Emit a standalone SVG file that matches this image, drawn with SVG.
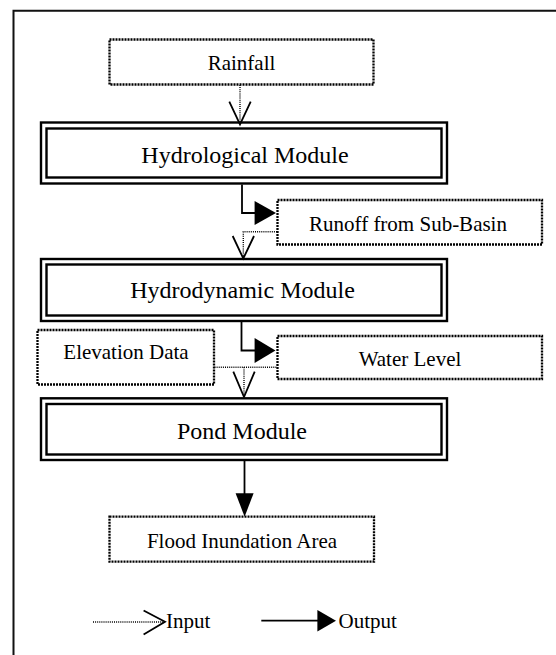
<svg xmlns="http://www.w3.org/2000/svg" width="556" height="655" viewBox="0 0 556 655">
  <style>
    .frame { fill: none; stroke: #111; stroke-width: 2; }
    .data { fill: #fff; stroke: #000; stroke-width: 2.3; stroke-dasharray: 2 1; }
    .mod-outer { fill: #fff; stroke: #000; stroke-width: 2.4; }
    .mod-inner { fill: none; stroke: #000; stroke-width: 2.4; }
    .lbl { font-family: "Liberation Serif", "Times New Roman", serif; font-size: 21px; fill: #000; text-anchor: middle; }
    .mlbl { font-family: "Liberation Serif", "Times New Roman", serif; font-size: 24px; fill: #000; text-anchor: middle; }
    .leg { font-family: "Liberation Serif", "Times New Roman", serif; font-size: 21px; fill: #000; }
    .in-line { fill: none; stroke: #000; stroke-width: 1.4; stroke-dasharray: 1 1.1; }
    .in-head { fill: none; stroke: #000; stroke-width: 1.8; stroke-linejoin: miter; }
    .out-line { fill: none; stroke: #000; stroke-width: 1.8; }
    .out-head { fill: #000; stroke: none; }
  </style>
  <rect width="556" height="655" fill="#fff"/>
  <!-- page frame, open on the right and bottom -->
  <path class="frame" d="M13.5,660 V10.8 H560"/>

  <!-- data boxes -->
  <g id="rainfall">
    <rect class="data" x="109.5" y="39.5" width="264" height="45"/>
    <text class="lbl" x="241.5" y="70">Rainfall</text>
  </g>
  <g id="runoff">
    <rect class="data" x="277.5" y="200" width="264.5" height="44.5"/>
    <text class="lbl" x="408" y="230.5">Runoff from Sub-Basin</text>
  </g>
  <g id="elevation">
    <rect class="data" x="37.5" y="330" width="176.5" height="54.5"/>
    <text class="lbl" x="126" y="359">Elevation Data</text>
  </g>
  <g id="water-level">
    <rect class="data" x="277.5" y="336" width="264.5" height="43"/>
    <text class="lbl" x="410" y="366">Water Level</text>
  </g>
  <g id="flood-area">
    <rect class="data" x="109.5" y="516.7" width="264.5" height="45"/>
    <text class="lbl" x="242" y="548">Flood Inundation Area</text>
  </g>

  <!-- model modules (double border) -->
  <g id="hydrological">
    <rect class="mod-outer" x="41" y="122.5" width="406" height="61"/>
    <rect class="mod-inner" x="46.5" y="128.5" width="395" height="49"/>
    <text class="mlbl" x="245" y="162.5">Hydrological Module</text>
  </g>
  <g id="hydrodynamic">
    <rect class="mod-outer" x="41" y="259" width="406" height="62"/>
    <rect class="mod-inner" x="46.5" y="264.5" width="395" height="51"/>
    <text class="mlbl" x="242.5" y="298">Hydrodynamic Module</text>
  </g>
  <g id="pond">
    <rect class="mod-outer" x="41" y="398.3" width="406" height="61.7"/>
    <rect class="mod-inner" x="46.5" y="404" width="395" height="50.5"/>
    <text class="mlbl" x="242" y="439">Pond Module</text>
  </g>

  <!-- connectors -->
  <g id="connectors">
    <!-- Rainfall -> Hydrological (input) -->
    <line class="in-line" x1="240" y1="85" x2="240" y2="123"/>
    <polyline class="in-head" points="229.3,101.7 240,124.5 250.7,101.7"/>
    <!-- Hydrological -> Runoff (output) -->
    <polyline class="out-line" points="242,184.5 242,213 256,213"/>
    <polygon class="out-head" points="254.6,201 254.6,225 276,213"/>
    <!-- Runoff -> Hydrodynamic (input) -->
    <polyline class="in-line" points="277,231.7 243.3,231.7 243.3,257.5"/>
    <polyline class="in-head" points="232.7,236 243.3,258.5 254,236"/>
    <!-- Hydrodynamic -> Water Level (output) -->
    <polyline class="out-line" points="241.5,322 241.5,350.5 256,350.5"/>
    <polygon class="out-head" points="254.6,338 254.6,363 275.5,350.5"/>
    <!-- Elevation Data + Water Level -> Pond (input) -->
    <line class="in-line" x1="214.5" y1="367.3" x2="277" y2="367.3"/>
    <line class="in-line" x1="244" y1="367.3" x2="244" y2="396"/>
    <polyline class="in-head" points="233.3,371.7 244,397 254.7,371.7"/>
    <!-- Pond -> Flood Inundation Area (output) -->
    <line class="out-line" x1="244.5" y1="461" x2="244.5" y2="495"/>
    <polygon class="out-head" points="235.6,493.3 253.6,493.3 244.6,516.7"/>
  </g>

  <!-- legend -->
  <g id="legend">
    <line class="in-line" x1="93" y1="622" x2="163" y2="622"/>
    <polyline class="in-head" points="143.6,610.5 165,621.8 143.6,634.5"/>
    <text class="leg" x="166" y="628.3">Input</text>
    <line class="out-line" x1="261.3" y1="620.7" x2="319" y2="620.7"/>
    <polygon class="out-head" points="317.4,610 317.4,631.5 336,620.7"/>
    <text class="leg" x="338.6" y="628.3">Output</text>
  </g>
</svg>
